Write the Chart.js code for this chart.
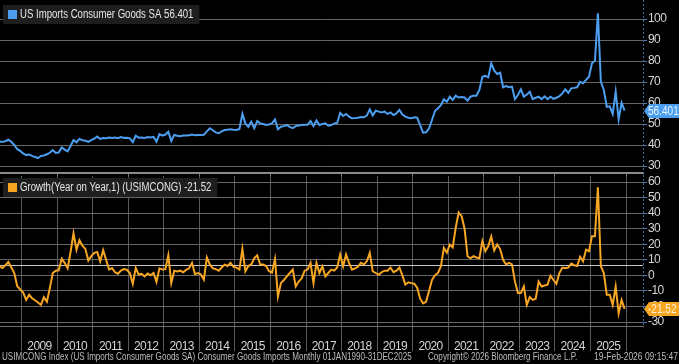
<!DOCTYPE html>
<html>
<head>
<meta charset="utf-8">
<script src="https://cdn.jsdelivr.net/npm/chart.js@4.4.1/dist/chart.umd.min.js"></script>
<style>
html,body{margin:0;padding:0;background:#000;width:679px;height:364px;overflow:hidden;}
#c1{position:absolute;left:0;top:0;}
#c2{position:absolute;left:0;top:175px;}
.foot{position:absolute;top:350px;font-family:'Liberation Sans',Arial,sans-serif;font-size:11px;color:#bdbdbd;white-space:nowrap;line-height:13px;transform-origin:0 0;}
</style>
</head>
<body>
<canvas id="c1" width="679" height="178"></canvas>
<canvas id="c2" width="679" height="176"></canvas>
<div class="foot" id="f1" style="left:2px">USIMCONG Index (US Imports Consumer Goods SA) Consumer Goods Imports Monthly 01JAN1990-31DEC2025</div>
<div class="foot" id="f2" style="left:428px">Copyright© 2026 Bloomberg Finance L.P.</div>
<div class="foot" id="f3" style="left:594px">19-Feb-2026 09:15:47</div>
<script>
// ---- data (monthly, starting May 2008) ----
const startYear = 2008;
const startMonth = 5;
const levelValues = [
  41.6, 41.5, 41.8, 42.5, 41.5, 40.0, 38.0, 37.2,
  36.0, 35.2, 35.5, 34.8, 34.3, 33.8, 34.8, 35.0, 35.6, 36.3, 37.6, 36.2,
  36.4, 38.8, 37.8, 37.0, 39.5, 42.4, 41.3, 42.9, 42.3, 42.0, 41.5, 42.3,
  43.0, 44.0, 42.9, 43.3, 43.2, 43.6, 43.3, 43.6, 43.2, 43.8, 43.4, 43.5,
  43.2, 41.4, 44.4, 43.5, 43.6, 43.3, 43.8, 43.6, 43.9, 41.6, 45.2, 44.5,
  45.0, 46.3, 41.9, 44.8, 44.4, 44.2, 44.5, 44.5, 44.6, 45.0, 44.6, 44.8,
  44.8, 44.9, 46.5, 48.0, 47.0, 46.0, 45.6, 46.5, 47.1, 47.3, 47.5, 47.3,
  47.2, 47.6, 54.8, 50.3, 48.7, 51.1, 48.0, 51.4, 50.3, 50.0, 49.5, 49.8,
  50.3, 52.2, 47.5, 48.7, 49.0, 49.5, 48.6, 48.0, 49.0, 49.3, 49.5, 49.6,
  49.6, 51.4, 49.0, 51.7, 49.5, 50.0, 50.3, 49.2, 49.5, 50.3, 50.5, 55.3,
  53.8, 54.8, 53.5, 52.7, 52.8, 53.0, 53.3, 53.2, 54.0, 57.0, 54.1, 56.3,
  55.9, 55.5, 55.9, 54.8, 55.5, 54.3, 55.0, 56.7, 54.5, 53.5, 53.0, 52.7,
  53.2, 53.0, 49.5, 45.9, 46.0, 47.9, 51.9, 56.2, 57.5, 59.0, 61.8, 60.6,
  63.0, 61.5, 63.5, 62.6, 62.8, 62.6, 61.1, 63.0, 63.5, 63.5, 66.2, 72.5,
  72.9, 72.2, 78.9, 75.5, 73.8, 74.4, 67.5, 68.1, 67.5, 67.8, 61.8, 63.8,
  66.5, 63.0, 64.0, 65.4, 61.8, 62.5, 63.0, 61.8, 63.2, 61.8, 63.0, 62.0,
  62.5, 63.2, 64.6, 66.5, 64.8, 67.0, 67.2, 67.5, 70.1, 69.4, 71.0, 72.5,
  78.9, 80.1, 102.7, 70.1, 66.2, 58.2, 58.4, 54.8, 65.4, 52.2, 60.1, 56.401
];
const yoyValues = [
  5.8, 4.7, 6.5, 8.6, 5.0, 1.5, -7.0, -9.0,
  -11.0, -15.8, -12.5, -14.7, -16.0, -17.5, -19.0, -14.0, -16.9, -8.2, 1.5, 3.0,
  3.2, 10.6, 8.0, 4.5, 15.0, 27.0, 16.4, 22.6, 19.0, 17.0, 9.5, 12.3,
  14.5, 15.0, 9.0, 16.2, 10.0, 3.7, 4.7, 2.0, 1.0, 3.0, 4.0, 3.6,
  1.5, -5.5, 4.7, 0.5, 1.0, -0.7, 1.2, 0.0, 1.5, -4.2, 4.5, 3.7,
  4.0, 13.0, -5.0, 3.0, 2.5, 3.0, 2.0, 3.5, 4.5, 8.0, 0.8, 1.5,
  0.5, -2.8, 11.5, 7.0, 4.5, 4.0, 3.0, 5.0, 6.9, 6.0, 8.0, 5.5,
  5.0, 3.7, 17.0, 2.6, 6.0, 7.0, 11.0, 12.9, 7.0, 7.0, 6.0, 2.6,
  1.8, 10.5, -13.6, -5.0, -3.0, -0.7, 1.5, 3.7, -7.2, -4.0, -2.0, 3.0,
  3.7, 8.0, -5.0, 8.0, 1.5, 5.8, -0.7, 1.5, 3.7, 3.0, 5.0, 13.4,
  5.8, 13.4, 8.0, 3.7, 4.5, 5.5, 8.0, 7.0, 9.0, 14.5, 2.6, 1.5,
  0.4, 2.0, 3.0, 3.0, 5.0, 2.0, 3.0, 5.0, 0.0, -6.0, -4.5, -5.0,
  -5.4, -8.0, -15.0, -18.0, -17.0, -10.0, -3.0, 0.0, 1.5, 5.8, 17.7, 14.5,
  19.8, 18.0, 30.6, 40.4, 38.0, 30.0, 12.3, 11.0, 12.3, 11.5, 11.0, 22.0,
  15.5, 18.8, 25.0, 16.0, 19.8, 16.9, 10.0, 7.0, 8.0, 7.0, -3.9, -11.4,
  -11.4, -7.2, -19.0, -14.0, -15.8, -15.0, -4.0, -7.2, -6.5, -6.0, -0.2, -3.0,
  -5.4, 1.5, 5.0, 4.5, 5.0, 7.6, 6.5, 6.0, 11.9, 9.0, 16.5, 15.5,
  25.2, 25.2, 56.6, 5.8, 1.5, -12.5, -12.5, -19.0, -7.2, -24.4, -15.8, -21.52
];
const yearTicks = [2009,2010,2011,2012,2013,2014,2015,2016,2017,2018,2019,2020,2021,2022,2023,2024,2025,2026];
const levelTicks = [30,40,50,60,70,80,90,100];
const yoyTicks = [-30,-20,-10,0,10,20,30,40,50,60];
const levelLast = 56.401;
const yoyLast = -21.52;
const yoyAverage = 6.8;
const levelLegend = 'US Imports Consumer Goods SA 56.401';
const yoyLegend = 'Growth(Year on Year,1) (USIMCONG) -21.52';

// ---- styling ----
const BLUE = '#4c9ff0';
const ORANGE = '#f6a623';
const GRID = '#666666';
const TXT = '#d6d6d6';
const FONT = "'Liberation Sans',Arial,sans-serif";
const X_MIN = 2008.39, X_MAX = 2026.477;

function toPoints(vals){
  return vals.map((v,i)=>({x: startYear + (startMonth - 1 + i + 0.5)/12, y: v}));
}
function condText(ctx, text, x, y, sx){
  ctx.save(); ctx.translate(x, y); ctx.scale(sx, 1); ctx.fillText(text, 0, 0); ctx.restore();
}

const spacingPlugin = {
  id:'spacing',
  beforeDraw(chart){ chart.ctx.letterSpacing = '-0.6px'; }
};

const axisLinePlugin = {
  id:'axisLine',
  afterDraw(chart){
    const ctx = chart.ctx, a = chart.chartArea;
    ctx.save();
    ctx.strokeStyle = '#46699a';
    ctx.lineWidth = 1;
    ctx.setLineDash([2,2]);
    ctx.beginPath();
    ctx.moveTo(a.right + 0.5, chart.options.plugins.axisLine.top);
    ctx.lineTo(a.right + 0.5, a.bottom);
    ctx.stroke();
    ctx.restore();
  }
};

const legendPlugin = {
  id:'legendBox',
  afterDraw(chart, args, opts){
    const ctx = chart.ctx;
    const a = chart.chartArea;
    ctx.save();
    ctx.letterSpacing = '0px';
    ctx.font = '12px ' + FONT;
    const sx = 0.8;
    const w = ctx.measureText(opts.text).width * sx;
    ctx.fillStyle = '#1e1e1e';
    ctx.fillRect(a.left+3, a.top+opts.top, w+23, 19);
    ctx.fillStyle = opts.color;
    ctx.fillRect(a.left+8, a.top+opts.top+5, 9, 9);
    ctx.fillStyle = '#e6e6e6';
    ctx.textBaseline = 'middle';
    condText(ctx, opts.text, a.left+20, a.top+opts.top+10, sx);
    // value tag
    const yp = Math.round(chart.scales.y.getPixelForValue(opts.value));
    const x0 = a.right + 1;
    ctx.fillStyle = opts.color;
    ctx.beginPath();
    ctx.moveTo(x0, yp);
    ctx.lineTo(x0+5, yp-7);
    ctx.lineTo(chart.width, yp-7);
    ctx.lineTo(chart.width, yp+7);
    ctx.lineTo(x0+5, yp+7);
    ctx.closePath();
    ctx.fill();
    ctx.fillStyle = opts.tagText;
    ctx.font = '12px ' + FONT;
    ctx.textBaseline = 'middle';
    condText(ctx, opts.label, x0+4, yp+1, 0.84);
    ctx.restore();
  }
};

const refLinePlugin = {
  id:'refLine',
  beforeDatasetsDraw(chart, args, opts){
    if (opts.value === undefined) return;
    const ctx = chart.ctx, a = chart.chartArea;
    const y = Math.round(chart.scales.y.getPixelForValue(opts.value)) + 0.5;
    ctx.save();
    ctx.strokeStyle = '#c8c8c8';
    ctx.lineWidth = 1;
    ctx.beginPath(); ctx.moveTo(a.left, y); ctx.lineTo(a.right, y); ctx.stroke();
    ctx.restore();
  }
};

Chart.defaults.font.family = FONT;
Chart.defaults.color = TXT;

const noPad = s => { s.paddingTop = 0; s.paddingBottom = 0; s.paddingLeft = 0; s.paddingRight = 0; };

const yAxisCommon = (ticks) => ({
  position:'right',
  afterBuildTicks: s => { s.ticks = ticks.map(v=>({value:v})); },
  afterFit: s => { s.width = 36; noPad(s); },
  grid:{color:GRID, lineWidth:1, drawTicks:true, tickLength:4, tickColor:'#4a78b4'},
  border:{display:false},
  ticks:{color:TXT, font:{size:12}, padding:1, autoSkip:false}
});

new Chart(document.getElementById('c1'), {
  type:'line',
  data:{datasets:[{data:toPoints(levelValues), borderColor:BLUE, borderWidth:2, pointRadius:0, tension:0, fill:false}]},
  options:{
    responsive:false, animation:false, events:[],
    layout:{padding:0},
    plugins:{legend:{display:false}, tooltip:{enabled:false},
      legendBox:{text:levelLegend, color:BLUE, top:5, value:levelLast, label:'56.401', tagText:'#e8f3ff'},
      axisLine:{top:0}},
    scales:{
      x:{type:'linear', min:X_MIN, max:X_MAX,
         afterBuildTicks: s => { s.ticks = yearTicks.filter(v=>v%2===0).map(v=>({value:v})); },
         afterFit: s => { s.height = 5; noPad(s); },
         grid:{drawOnChartArea:false, drawTicks:true, tickLength:4, color:'#777'},
         border:{display:true, color:'#8c8c8c', width:2},
         ticks:{display:false}},
      y:Object.assign(yAxisCommon(levelTicks), {min:26.67, max:109.05})
    }
  },
  plugins:[spacingPlugin, legendPlugin, axisLinePlugin]
});

new Chart(document.getElementById('c2'), {
  type:'line',
  data:{datasets:[{data:toPoints(yoyValues), borderColor:ORANGE, borderWidth:2, pointRadius:0, tension:0, fill:false}]},
  options:{
    responsive:false, animation:false, events:[],
    layout:{padding:{top:1, left:0, right:0, bottom:0}},
    plugins:{legend:{display:false}, tooltip:{enabled:false},
      legendBox:{text:yoyLegend, color:ORANGE, top:2, value:yoyLast, label:'-21.52', tagText:'#fff4dc'},
      refLine:{value:yoyAverage},
      axisLine:{top:0}},
    scales:{
      x:{type:'linear', min:X_MIN, max:X_MAX,
         afterBuildTicks: s => { s.ticks = yearTicks.map(v=>({value:v})); },
         afterFit: s => { s.height = 25; noPad(s); },
         grid:{color:'#5a5a5a', drawTicks:true, tickLength:25, tickColor:'#5a5a5a'},
         border:{display:true, color:'#707070', width:1},
         ticks:{color:TXT, font:{size:12}, padding:-12, labelOffset:17.8, maxRotation:0, autoSkip:false,
                callback: v => (v < 2026 ? String(v) : '')}},
      y:Object.assign(yAxisCommon(yoyTicks), {min:-32.57, max:63.86})
    }
  },
  plugins:[spacingPlugin, legendPlugin, refLinePlugin, axisLinePlugin]
});

// fit footer texts to their widths in the reference layout
const footWidths = {f1:410, f2:149, f3:84};
for (const id in footWidths){
  const el = document.getElementById(id);
  el.style.transform = 'scaleX(' + (footWidths[id] / el.offsetWidth) + ')';
}
</script>
</body>
</html>
